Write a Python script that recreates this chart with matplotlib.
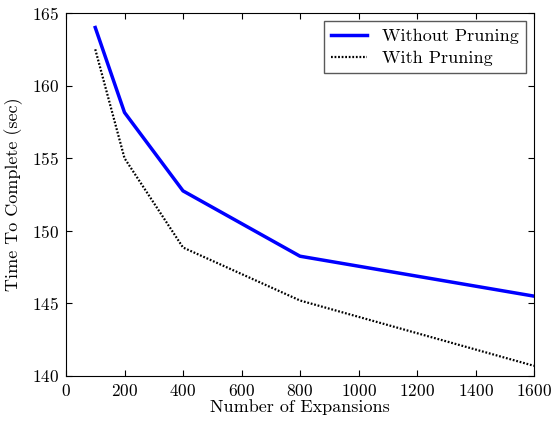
import matplotlib
matplotlib.use("Agg")
import matplotlib.pyplot as plt

plt.rcParams['font.family'] = 'cmr10'
plt.rcParams['mathtext.fontset'] = 'cm'
plt.rcParams['axes.formatter.use_mathtext'] = True

expansions = [100, 200, 400, 800, 1600]
without_pruning = [164.0, 158.15, 152.75, 148.25, 145.5]
with_pruning = [162.5, 155.0, 148.85, 145.2, 140.7]

fig = plt.figure(figsize=(5.51, 4.22), dpi=100)
ax = fig.add_axes([66 / 551, 1 - 376 / 422, 468 / 551, 363 / 422])

ax.plot(expansions, without_pruning, color='blue', lw=2.5, label='Without Pruning')
ax.plot(expansions, with_pruning, color='black', lw=1.6, ls=(0, (0.8, 0.8)), label='With Pruning')

ax.set_xlim(0, 1600)
ax.set_ylim(140, 165)
ax.set_xticks(range(0, 1601, 200))
ax.set_yticks(range(140, 166, 5))
ax.tick_params(direction='in', top=True, right=True, labelsize=12.5, length=4, pad=5)
ax.set_xlabel('Number of Expansions', fontsize=13, labelpad=0)
ax.set_ylabel('Time To Complete (sec)', fontsize=13, labelpad=6)

leg = ax.legend(loc='upper right', fontsize=13, fancybox=False, framealpha=1,
                edgecolor='0.35', handlelength=2.0, borderpad=0.4,
                borderaxespad=0.45, labelspacing=0.35)
leg.get_frame().set_linewidth(1.0)

fig.savefig('out.png', dpi=100)
